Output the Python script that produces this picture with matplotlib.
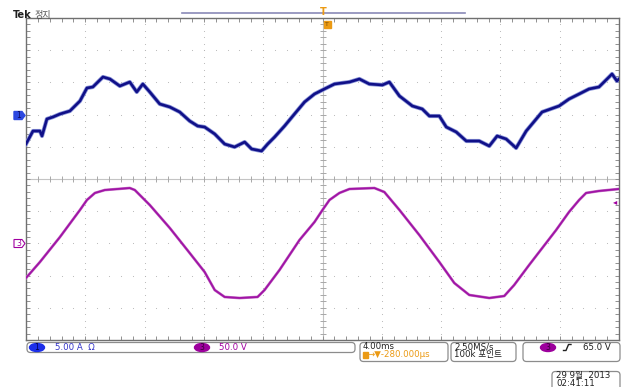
import numpy as np
import matplotlib.pyplot as plt
from matplotlib.patches import FancyBboxPatch, Ellipse, Rectangle, Polygon

plt.rcParams['font.family'] = ['DejaVu Sans', 'Noto Sans CJK KR']

# ---------------- scope settings ----------------
time_per_div = 4.0      # ms/div
ch1_scale = 5.0         # A/div
ch3_scale = 50.0        # V/div
ch1_offset_div = 2.0
ch3_offset_div = -2.0
trig_level = 65.0       # V

# ---------------- CH1 current (A) ----------------
t1_ms = [0.00, 0.07, 0.47, 0.94, 1.08, 1.41, 1.82, 2.29, 2.96, 3.64, 4.11, 4.51,
         5.19, 5.66, 6.33, 7.00, 7.47, 7.88, 8.35, 9.02, 9.70, 10.37, 11.04, 11.58,
         12.05, 12.73, 13.40, 14.07, 14.75, 15.22, 15.89, 16.30, 16.77, 17.44, 18.11,
         18.79, 19.46, 20.13, 20.81, 21.82, 22.49, 23.16, 24.04, 24.51, 25.19, 26.06,
         26.73, 27.21, 27.88, 28.35, 29.02, 29.70, 30.57, 31.25, 31.78, 32.39, 33.06,
         33.74, 34.81, 35.96, 36.63, 37.31, 37.98, 38.65, 39.33, 39.53, 39.86, 40.00]
i1_amp = [-4.57, -4.26, -2.55, -2.55, -3.32, -0.68, -0.37, 0.09, 0.56, 2.11, 4.13, 4.29,
          5.84, 5.53, 4.44, 5.06, 3.51, 4.75, 3.51, 1.65, 1.18, 0.40, -0.99, -1.77,
          -1.93, -3.01, -4.57, -5.03, -4.26, -5.34, -5.65, -4.57, -3.48, -1.77, 0.09,
          1.96, 3.20, 3.98, 4.75, 5.06, 5.53, 4.75, 4.60, 5.06, 2.89, 1.34,
          0.87, -0.22, -0.22, -1.93, -2.70, -4.10, -4.10, -4.88, -3.32, -3.79, -5.19,
          -2.55, 0.40, 1.34, 2.42, 3.20, 3.98, 4.29, 5.84, 6.31, 5.22, 5.53]

# ---------------- CH3 voltage (V) ----------------
t3_ms = [0.00, 0.94, 2.29, 3.64, 4.11, 4.65, 5.32, 7.00, 7.34, 8.35, 9.70, 11.04,
         12.05, 12.73, 13.40, 14.41, 15.62, 16.09, 17.10, 18.45, 19.46, 20.00, 20.47,
         21.14, 21.82, 23.50, 24.17, 25.19, 26.53, 27.88, 28.89, 29.90, 31.25, 32.26,
         32.93, 33.94, 35.76, 36.63, 37.31, 37.78, 38.65, 40.00]
v3_volt = [-53.7, -28.9, 9.9, 51.9, 67.4, 78.3, 82.9, 86.0, 82.9, 59.6, 23.9, -14.9,
           -44.4, -72.4, -83.2, -84.8, -83.2, -72.4, -41.3, 5.3, 33.2, 51.9, 67.4,
           78.3, 84.5, 86.0, 79.8, 51.9, 13.0, -28.9, -61.5, -80.1, -84.8, -81.7,
           -64.6, -33.5, 20.8, 48.8, 67.4, 78.3, 81.4, 84.5]

W, H = 629, 387
fig = plt.figure(figsize=(W / 100, H / 100), dpi=100)
fig.patch.set_facecolor('white')

# main graticule: 10 x 10 divisions
L, R, T, B = 26, 619, 18, 340
ax = fig.add_axes([L / W, 1 - B / H, (R - L) / W, (B - T) / H])
ax.set_xlim(0, 10)
ax.set_ylim(-5, 5)

grid_col = '#b4b4b4'
minor_x = np.arange(0, 10.001, 0.2)
minor_y = np.arange(-5, 5.001, 0.2)
for gx in range(1, 10):
    if gx != 5:
        ax.scatter(np.full_like(minor_y, gx), minor_y, s=0.6, color=grid_col, lw=0, zorder=1)
for gy in range(-4, 5):
    if gy != 0:
        ax.scatter(minor_x, np.full_like(minor_x, gy), s=0.6, color=grid_col, lw=0, zorder=1)

# center crosshair with ticks
ax.axhline(0, color='#c4c4c4', lw=0.8, zorder=1)
ax.axvline(5, color='#c4c4c4', lw=0.8, zorder=1)
ax.plot(minor_x, np.zeros_like(minor_x), ls='none', marker='|', ms=4, mew=0.7, color='#a8a8a8', zorder=1)
ax.plot(np.full_like(minor_y, 5), minor_y, ls='none', marker='_', ms=4, mew=0.7, color='#a8a8a8', zorder=1)

ax.set_xticks(minor_x)
ax.set_yticks(minor_y)
ax.tick_params(direction='in', length=3, width=0.7, color='#909090',
               top=True, right=True, labelbottom=False, labelleft=False)
for sp in ax.spines.values():
    sp.set_color('#707070')
    sp.set_linewidth(1.0)

# traces
x1 = np.array(t1_ms) / time_per_div
y1 = np.array(i1_amp) / ch1_scale + ch1_offset_div
x3 = np.array(t3_ms) / time_per_div
y3 = np.array(v3_volt) / ch3_scale + ch3_offset_div

ax.plot(x1, y1, color='#8a94d8', lw=3.0, solid_joinstyle='round', zorder=3)
ax.plot(x1, y1, color='#101088', lw=1.9, solid_joinstyle='round', zorder=4)
ax.plot(x3, y3, color='#c878c8', lw=2.0, zorder=3)
ax.plot(x3, y3, color='#a014a6', lw=1.3, zorder=4)

# ---------------- overlay in pixel coords ----------------
ov = fig.add_axes([0, 0, 1, 1])
ov.set_xlim(0, W)
ov.set_ylim(H, 0)
ov.axis('off')

fs = 6.2
blue_txt = '#3434c8'
purple = '#a000a0'
orange = '#eb9a14'

ov.text(13, 15.5, 'Tek', fontsize=7, fontweight='bold', va='center', color='#202020')
ov.text(34, 15.5, '정지', fontsize=6.5, va='center', color='#505050')
ov.plot([182, 465], [13, 13], color='#8a8ab8', lw=1.2)

# trigger position markers
ov.text(323, 12, 'T', fontsize=7, fontweight='bold', color=orange, ha='center', va='center')
ov.add_patch(Rectangle((323.5, 21), 7, 7, color=orange))
ov.text(327, 24.5, 'T', fontsize=4.5, color='#7a4a00', ha='center', va='center')

# channel ground markers
ov.add_patch(Polygon([[14, 111.5], [22, 111.5], [25, 115.5], [22, 119.5], [14, 119.5]],
                     closed=True, color='#2c48e0'))
ov.text(18.5, 115.5, '1', fontsize=5.5, color='#0a0a60', ha='center', va='center')
ov.add_patch(Polygon([[14, 239.5], [22, 239.5], [25, 243.5], [22, 247.5], [14, 247.5]],
                     closed=True, fill=False, ec=purple, lw=0.8))
ov.text(18.5, 243.5, '3', fontsize=5.5, color=purple, ha='center', va='center')

# trigger level arrow
trig_py = 179 - (trig_level / ch3_scale + ch3_offset_div) * 32.2
ov.text(615, trig_py, '◂', fontsize=6, color=purple, ha='center', va='center')

def box(x0, y0, x1, y1):
    ov.add_patch(FancyBboxPatch((x0, y0), x1 - x0, y1 - y0,
                                boxstyle='round,pad=0,rounding_size=3.5',
                                fc='white', ec='#8c8c8c', lw=0.9))

# status bar
box(27, 342.5, 355, 352.5)
ov.add_patch(Ellipse((37, 347.5), 15, 8, color='#1c2ee8'))
ov.text(37, 347.5, '1', fontsize=5.5, color='#000050', ha='center', va='center')
ov.text(55, 347.5, '5.00 A  Ω', fontsize=fs, color=blue_txt, va='center')
ov.add_patch(Ellipse((202, 347.5), 15, 8, color='#9c009c'))
ov.text(202, 347.5, '3', fontsize=5.5, color='#3a003a', ha='center', va='center')
ov.text(219, 347.5, '50.0 V', fontsize=fs, color=purple, va='center')

box(360, 342.5, 448, 361.5)
ov.text(363, 346.8, '4.00ms', fontsize=fs, color='#202020', va='center')
ov.add_patch(Rectangle((362.5, 351.5), 5.5, 6, color=orange))
ov.text(368, 354.8, '→▼-280.000µs', fontsize=fs, color=orange, va='center')

box(451, 342.5, 516, 361.5)
ov.text(454, 346.8, '2.50MS/s', fontsize=fs, color='#202020', va='center')
ov.text(454, 355, '100k 포인트', fontsize=fs, color='#202020', va='center')

box(523, 342.5, 620, 361.5)
ov.add_patch(Ellipse((548, 347.5), 15, 8, color='#9c009c'))
ov.text(548, 347.5, '3', fontsize=5.5, color='#3a003a', ha='center', va='center')
ov.plot([563.5, 566, 568.5, 571], [350.5, 350.5, 344.5, 344.5], color='#202020', lw=1.0)
ov.text(583, 347.5, '65.0 V', fontsize=fs, color='#202020', va='center')

box(552, 371.5, 620, 393)
ov.text(556, 375.5, '29 9월  2013', fontsize=fs, color='#202020', va='center')
ov.text(556, 383, '02:41:11', fontsize=fs, color='#202020', va='center')

fig.savefig('out.png', dpi=100)
